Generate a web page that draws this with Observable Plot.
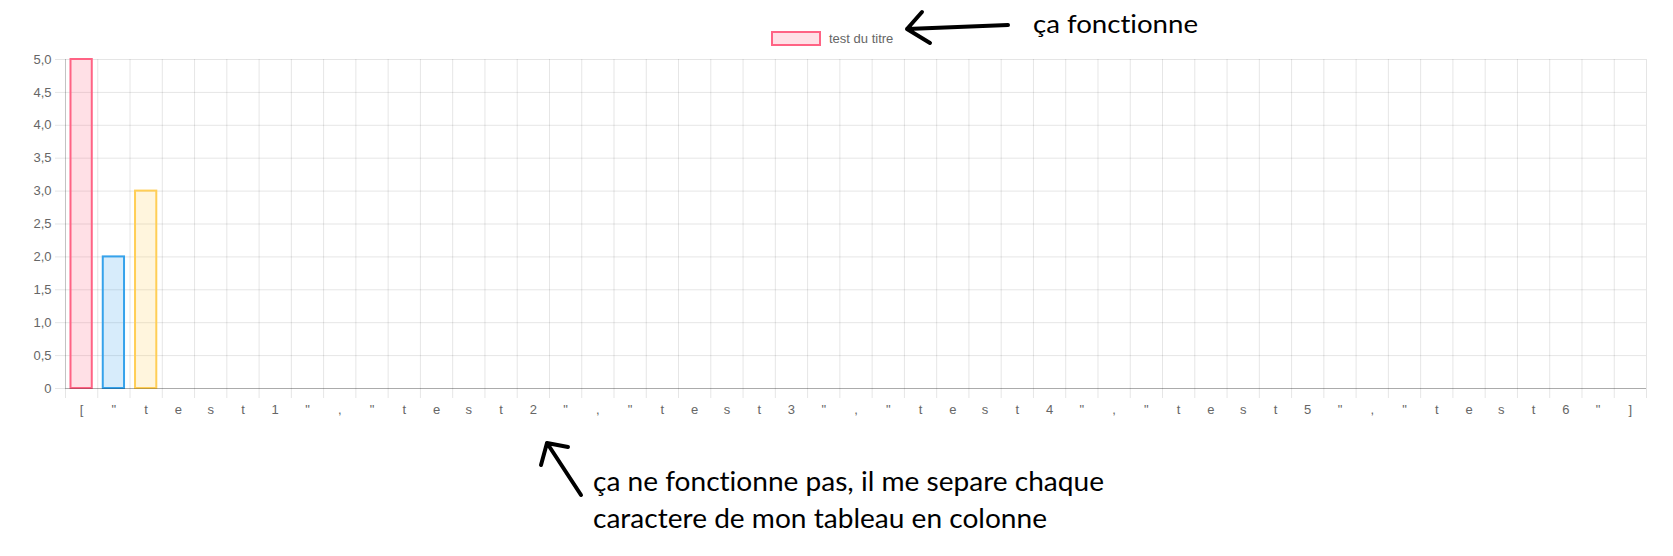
<!DOCTYPE html>
<html>
<head>
<meta charset="utf-8">
<script src="https://cdn.jsdelivr.net/npm/d3@7"></script>
<script src="https://cdn.jsdelivr.net/npm/@observablehq/plot@0.6"></script>
<style>
  html, body { margin: 0; padding: 0; background: #fff; }
  #wrap { position: relative; width: 1673px; height: 556px; overflow: hidden; }
  #wrap svg { display: block; }
  #overlay { position: absolute; left: 0; top: 0; pointer-events: none; }
  #overlay text.note { font-variant-ligatures: none; font-feature-settings: "liga" 0, "dlig" 0; }
</style>
</head>
<body>
<div id="wrap"></div>
<script>
// ---- data ----
const xLabels = ["[", "\"", "t", "e", "s", "t", "1", "\"", ",",
  "\"", "t", "e", "s", "t", "2", "\"", ",",
  "\"", "t", "e", "s", "t", "3", "\"", ",",
  "\"", "t", "e", "s", "t", "4", "\"", ",",
  "\"", "t", "e", "s", "t", "5", "\"", ",",
  "\"", "t", "e", "s", "t", "6", "\"", "]"];
const values = [5, 2, 3];
const barColors = ["rgb(255,99,132)", "rgb(54,162,235)", "rgb(255,206,86)"];
const yTicks = [0, 0.5, 1, 1.5, 2, 2.5, 3, 3.5, 4, 4.5, 5];
const seriesLabel = "test du titre";
const noteTop = "ça fonctionne";
const noteBottom = ["ça ne fonctionne pas, il me separe chaque", "caractere de mon tableau en colonne"];

const data = values.map((v, i) => ({i, v, color: barColors[i]}));
const n = xLabels.length;
const boundaries = d3.range(n + 1);
const centers = d3.range(n).map(i => i + 0.5);
const fmtY = d => d === 0 ? "0" : d.toFixed(1).replace(".", ",");

const grid = "rgba(0,0,0,0.1)";
const font = "'Liberation Sans', Arial, Helvetica, sans-serif";

const chart = Plot.plot({
  width: 1673,
  height: 556,
  marginLeft: 65,
  marginRight: 27,
  marginTop: 59,
  marginBottom: 168,
  style: {fontFamily: font, fontSize: "13px", background: "#fff"},
  x: {type: "linear", domain: [0, n]},
  y: {domain: [0, 5]},
  marks: [
    Plot.gridY(yTicks, {stroke: grid, strokeOpacity: 1}),
    Plot.gridX(boundaries, {stroke: grid, strokeOpacity: 1}),
    Plot.axisY(yTicks, {tickSize: 10, tickPadding: 4, tickFormat: fmtY, stroke: grid, strokeOpacity: 1, fill: "#666", fontSize: 13, label: null}),
    Plot.axisX(boundaries, {tickSize: 10, tickFormat: () => "", stroke: grid, strokeOpacity: 1, label: null}),
    Plot.axisX(centers, {tickSize: 0, tickPadding: 16, tickFormat: d => xLabels[Math.round(d - 0.5)], fill: "#666", fontSize: 13, label: null}),
    Plot.ruleX([0], {stroke: "rgba(0,0,0,0.15)"}),
    Plot.rectY(data, {x1: "i", x2: d => d.i + 1, y: "v", fill: "color", fillOpacity: 0.2, stroke: "color", strokeWidth: 2, insetLeft: 5.5, insetRight: 5.5}),
    Plot.ruleY([0], {stroke: "rgba(0,0,0,0.25)"})
  ]
});
document.getElementById("wrap").appendChild(chart);

// ---- legend and hand-written annotations (overlay) ----
const ov = d3.select("#wrap").append("svg")
  .attr("id", "overlay").attr("width", 1673).attr("height", 556);

const lg = ov.append("g");
lg.append("rect").attr("x", 772).attr("y", 32).attr("width", 48).attr("height", 13)
  .attr("fill", barColors[0]).attr("fill-opacity", 0.2).attr("stroke", barColors[0]).attr("stroke-width", 2);
lg.append("text").attr("x", 829).attr("y", 43).attr("fill", "#666")
  .style("font-family", font).style("font-size", "13px").text(seriesLabel);

const pen = ov.append("g").attr("fill", "none").attr("stroke", "#000")
  .attr("stroke-width", 4).attr("stroke-linecap", "round").attr("stroke-linejoin", "round");
pen.append("path").attr("d", "M1008,25 L907,29 M922,12 L907,29 L930,43");
pen.append("path").attr("d", "M581,495 L547,443 M541,465 L547,443 L568,447");

const noteFont = "Lato, 'Open Sans', 'Noto Sans', sans-serif";
ov.append("text").attr("class", "note").attr("x", 1033).attr("y", 33).attr("textLength", 165).attr("lengthAdjust", "spacingAndGlyphs")
  .style("font-family", noteFont).style("font-size", "25px").attr("fill", "#000").text(noteTop);
const bw = [511, 454];
noteBottom.forEach((t, k) => {
  ov.append("text").attr("class", "note").attr("x", 593).attr("y", 491 + 37 * k).attr("textLength", bw[k]).attr("lengthAdjust", "spacingAndGlyphs")
    .style("font-family", noteFont).style("font-size", "26px").attr("fill", "#000").text(t);
});
</script>
</body>
</html>
